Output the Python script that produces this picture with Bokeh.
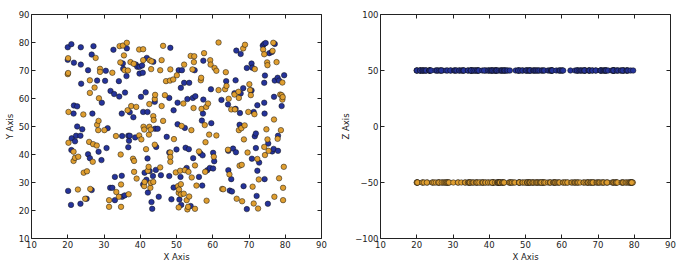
from bokeh.plotting import figure
from bokeh.layouts import row
from bokeh.models import FixedTicker, LinearAxis, Range1d
from bokeh.embed import file_html
from bokeh.resources import INLINE

blue_x = [20.0,21.0,20.0,20.1,20.9,21.1,21.0,21.7,21.6,21.7,22.0,22.3,22.6,22.6,23.5,23.5,23.6,23.6,23.7,24.0,25.2,
          25.6,25.6,26.1,26.6,26.6,27.1,26.8,28.1,28.5,29.4,29.3,30.3,30.5,30.7,31.0,31.7,31.8,
          32.3,32.6,32.8,33.0,33.0,34.1,34.2,34.9,35.0,35.2,35.3,34.9,35.0,35.8,35.7,36.3,36.2,36.7,36.9,36.7,37.1,37.1,38.1,38.8,
          39.2,38.6,39.8,39.8,40.2,40.5,40.7,40.8,40.8,41.5,41.2,41.8,41.7,42.0,42.0,42.1,42.6,43.1,43.3,43.5,43.6,44.0,44.1,44.4,44.3,
          44.8,45.1,45.7,47.3,48.0,48.0,48.3,48.0,48.6,49.2,49.2,50.0,50.6,50.3,50.3,50.8,
          51.1,51.5,51.2,51.3,52.1,52.3,52.5,52.8,53.0,53.4,53.5,53.9,54.5,54.6,55.0,55.2,56.2,56.6,57.0,57.1,57.2,57.3,57.4,57.4,
          58.5,59.2,59.5,59.6,60.1,60.1,60.4,62.4,63.7,
          64.3,64.3,64.2,64.7,65.1,65.3,65.6,66.0,66.3,66.5,66.4,66.3,67.5,67.4,67.7,67.7,68.4,68.5,69.4,69.4,
          70.7,70.7,70.9,70.8,71.3,71.6,71.9,71.9,72.1,72.3,72.3,72.8,74.2,74.2,74.3,74.4,73.8,74.2,74.6,74.3,75.3,75.2,75.6,76.3,76.4,
          76.9,77.1,77.1,76.8,77.9,78.0,78.0,78.3,79.0,79.7]
blue_y = [78.3,79.4,73.8,27.0,22.0,45.8,41.6,57.5,54.6,72.8,44.7,46.7,57.2,50.0,46.7,22.4,78.3,72.1,65.3,49.0,24.2,
          70.1,40.1,38.7,27.3,75.7,78.7,54.6,66.4,41.0,58.5,38.0,66.3,69.9,42.3,49.4,28.1,62.7,
          28.1,77.4,61.6,32.0,23.7,66.2,60.7,32.4,24.9,72.5,70.6,54.6,46.6,62.1,25.4,77.9,68.0,46.7,44.9,42.6,46.7,55.1,53.3,72.1,
          71.3,46.1,71.3,68.9,60.6,71.8,69.2,55.2,29.3,62.2,33.5,74.5,31.0,55.2,38.6,26.4,34.1,23.0,20.6,32.3,73.1,58.8,49.2,42.7,34.5,
          49.2,24.9,32.6,46.3,60.2,40.7,78.1,32.3,24.0,55.8,28.2,41.8,70.1,58.5,50.8,23.9,
          32.0,70.1,63.8,22.0,65.6,49.5,42.4,35.2,59.8,41.9,65.6,21.6,60.2,38.7,70.1,60.8,32.0,40.4,52.1,28.9,39.7,54.6,59.6,73.5,
          34.4,35.2,63.3,51.2,40.6,35.0,37.6,59.5,66.2,
          41.3,34.4,57.9,27.1,31.2,26.8,42.1,61.9,66.5,77.1,40.8,56.3,54.8,50.6,75.9,61.8,63.7,28.7,20.5,70.9,
          62.9,72.5,71.0,38.5,55.2,46.5,47.5,42.3,25.2,57.6,34.2,37.1,58.5,65.6,54.6,68.2,78.9,79.5,79.8,31.2,43.9,22.4,76.2,76.6,41.1,
          60.6,66.4,79.5,42.0,67.4,46.7,41.3,66.4,57.3,68.3]

orange_x = [20.1,20.0,20.1,20.2,20.2,21.6,21.6,22.0,22.9,22.8,24.3,24.4,24.8,25.3,
            26.1,26.1,25.9,26.2,27.0,26.9,27.4,27.7,28.0,28.1,28.5,28.4,28.6,28.9,28.9,30.1,31.4,31.4,
            32.3,33.3,33.4,34.1,34.3,34.5,34.6,34.7,34.7,35.2,35.5,35.7,36.3,36.6,36.5,36.8,37.5,37.3,38.2,38.0,38.3,38.3,
            38.9,39.0,39.7,39.7,40.3,40.8,40.9,41.1,41.1,41.2,40.8,41.6,42.1,42.3,42.4,42.5,42.5,42.6,42.8,42.9,42.9,43.1,43.0,43.6,43.6,43.7,44.0,44.0,44.1,
            45.5,45.5,45.9,45.9,46.3,46.3,46.8,47.1,48.2,48.3,48.3,48.3,48.3,49.1,49.3,50.1,49.8,50.4,50.6,50.7,50.6,
            51.0,51.2,51.2,51.4,51.9,52.1,52.0,52.3,52.8,53.3,53.0,53.2,53.5,53.9,54.1,54.2,54.7,54.9,54.8,54.4,55.1,55.1,55.5,56.2,56.7,56.8,56.9,57.6,
            57.8,58.0,57.9,58.2,58.3,58.7,59.0,59.3,59.4,60.3,60.5,61.0,61.0,61.6,61.6,62.6,62.9,63.4,63.6,63.8,
            64.2,64.4,64.6,65.1,66.0,66.1,66.6,67.1,67.2,67.2,67.4,67.9,68.0,68.1,68.4,68.9,68.8,68.6,69.6,69.8,70.1,
            70.3,70.5,71.0,71.5,71.3,71.6,72.3,72.7,72.5,73.9,74.2,74.2,74.4,74.8,75.0,75.1,75.1,75.4,76.5,76.7,
            76.9,77.0,77.6,77.9,78.3,78.6,78.8,79.0,79.2,79.2,79.4,79.4,79.6,79.3]
orange_y = [74.4,68.7,69.1,55.2,44.2,41.0,37.7,38.8,39.2,27.5,54.3,33.5,24.2,34.0,
            66.5,62.0,44.5,27.7,43.7,37.4,63.9,74.5,43.2,50.6,52.0,48.7,60.1,70.6,69.5,48.7,23.7,21.3,
            69.2,46.6,26.6,24.9,78.7,72.9,40.0,29.3,21.3,78.9,75.4,70.1,79.9,70.0,55.8,25.8,57.3,73.0,72.4,38.5,37.7,33.8,
            57.0,31.4,77.5,46.8,45.4,77.6,49.9,48.9,28.7,30.2,73.7,41.9,34.2,35.6,47.1,49.9,58.0,73.7,28.1,29.9,48.9,73.3,70.5,53.7,30.2,52.3,43.5,59.8,61.3,
            35.4,70.1,73.7,57.3,52.0,78.8,61.2,66.2,66.4,70.4,40.7,39.1,37.4,66.8,45.5,68.3,33.6,28.7,26.3,27.5,21.1,
            34.2,29.4,25.7,50.2,58.2,72.1,26.0,34.4,23.7,33.8,20.4,21.3,25.0,75.2,48.7,31.8,56.6,75.1,73.0,70.4,36.1,20.6,28.9,41.1,66.5,67.4,56.3,76.2,
            50.5,44.4,33.8,57.0,23.5,58.2,47.1,73.7,72.1,39.2,70.9,69.9,46.8,63.0,80.0,27.7,27.6,63.3,69.4,64.5,
            41.7,59.9,32.9,56.1,61.4,56.1,24.2,62.4,60.2,48.7,36.0,49.4,36.3,23.3,77.9,79.2,50.4,45.4,40.7,55.2,65.1,
            63.0,61.2,28.5,54.4,22.5,70.5,38.4,31.1,20.7,77.5,75.8,42.7,39.8,49.0,72.9,71.9,45.4,41.3,77.0,79.9,
            52.5,24.9,73.0,45.6,31.5,61.4,48.7,61.2,59.6,65.7,28.1,23.7,35.6,60.5]

blue_z_level = 50
orange_z_level = -50
blue_z = [blue_z_level] * len(blue_x)
orange_z = [orange_z_level] * len(orange_x)

x_ticks = [10, 20, 30, 40, 50, 60, 70, 80, 90]
y_ticks = [10, 20, 30, 40, 50, 60, 70, 80, 90]
z_ticks = [-100, -50, 0, 50, 100]
z_tick_labels = {-100: "\u2212100", -50: "\u221250", 0: "0", 50: "50", 100: "100"}

BLUE = "#25339a"
ORANGE = "#df9e30"
FONT = "DejaVu Sans"
FS = "8.5px"


def style(p, xt, yt, xlabel, ylabel):
    p.outline_line_color = "#222222"
    p.outline_line_width = 1
    p.xgrid.visible = False
    p.ygrid.visible = False
    for ax, ticks, lab in ((p.xaxis[0], xt, xlabel), (p.yaxis[0], yt, ylabel)):
        ax.ticker = FixedTicker(ticks=ticks)
        ax.axis_label = lab
        ax.axis_label_text_font = FONT
        ax.axis_label_text_font_size = FS
        ax.axis_label_text_font_style = "normal"
        ax.axis_label_text_color = "#222222"
        ax.axis_label_standoff = 1
        ax.major_label_text_font = FONT
        ax.major_label_text_font_size = FS
        ax.major_label_text_color = "#222222"
        ax.major_label_standoff = 2
        ax.major_tick_in = 4
        ax.major_tick_out = 0
        ax.minor_tick_line_color = None
        ax.axis_line_color = None
        ax.major_tick_line_color = "#222222"
    for loc, ticks in (("above", xt), ("right", yt)):
        ax2 = LinearAxis(ticker=FixedTicker(ticks=ticks))
        ax2.major_label_text_font_size = "1px"
        ax2.major_label_text_color = None
        ax2.major_label_standoff = 0
        ax2.major_tick_in = 4
        ax2.major_tick_out = 0
        ax2.minor_tick_line_color = None
        ax2.axis_line_color = None
        ax2.major_tick_line_color = "#222222"
        p.add_layout(ax2, loc)


p1 = figure(frame_width=290, frame_height=224, output_backend="svg", toolbar_location=None,
            x_range=Range1d(10, 90), y_range=Range1d(10, 90),
            min_border_left=31, min_border_right=16, min_border_top=14, min_border_bottom=22)
style(p1, x_ticks, y_ticks, "X Axis", "Y Axis")
p1.scatter(blue_x, blue_y, size=5.5, fill_color=BLUE, line_color="#111111", line_width=0.5)
p1.scatter(orange_x, orange_y, size=5.5, fill_color=ORANGE, line_color="#111111", line_width=0.5)

p2 = figure(frame_width=290, frame_height=224, output_backend="svg", toolbar_location=None,
            x_range=Range1d(10, 90), y_range=Range1d(-100, 100),
            min_border_left=43, min_border_right=6, min_border_top=14, min_border_bottom=22)
style(p2, x_ticks, z_ticks, "X Axis", "Z Axis")
p2.yaxis[0].major_label_overrides = z_tick_labels
p2.scatter(blue_x, blue_z, size=5.5, fill_color=BLUE, line_color="#111111", line_width=0.5)
p2.scatter(orange_x, orange_z, size=5.5, fill_color=ORANGE, line_color="#111111", line_width=0.5)

layout = row(p1, p2)
open("out.html", "w").write(file_html(layout, INLINE))
